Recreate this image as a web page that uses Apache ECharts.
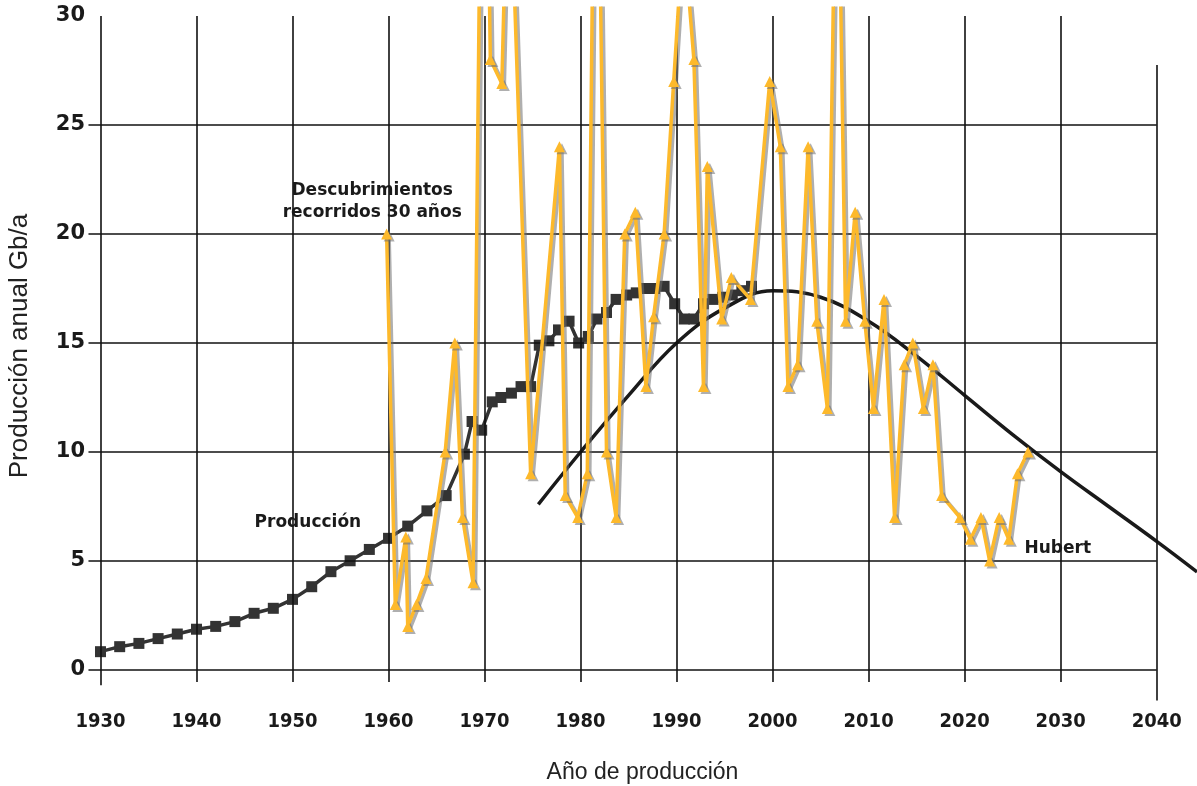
<!DOCTYPE html>
<html><head><meta charset="utf-8">
<script src="https://cdn.jsdelivr.net/npm/echarts@6/dist/echarts.min.js"></script>
<style>html,body{margin:0;padding:0;background:#fff}#c{width:1197px;height:786px}</style>
</head><body><div id="c"></div>
<script>
// ---- data ----
const prodYears = [1930,1932,1934,1936,1938,1940,1942,1944,1946,1948,1950,1952,1954,1956,1958,1960,1962,1964,1966,1967.9,
  1968.7,1969.7,1970.8,1971.7,1972.8,1973.8,1974.8,1975.7,1976.7,1977.7,1978.8,1979.8,1980.8,1981.7,1982.7,1983.7,
  1984.8,1985.8,1986.8,1987.7,1988.7,1989.8,1990.8,1991.8,1992.8,1993.8,1994.8,1995.8,1996.8,1997.8];
const prodValues = [0.84,1.07,1.22,1.44,1.65,1.87,2.0,2.22,2.6,2.83,3.24,3.82,4.51,5.01,5.53,6.04,6.6,7.3,8.0,9.9,
  11.4,11.0,12.3,12.5,12.7,13.0,13.0,14.9,15.1,15.6,16.0,15.0,15.3,16.1,16.4,17.0,
  17.2,17.3,17.5,17.5,17.6,16.8,16.1,16.1,16.8,17.0,17.1,17.2,17.4,17.6];

const discYears = [1959.8,1960.7,1961.8,1962.0,1962.9,1963.9,1965.9,1966.9,1967.7,1968.8,1969.9,1970.6,1971.8,1972.5,
  1974.8,1977.8,1978.4,1979.7,1980.7,1981.6,1982.7,1983.7,1984.6,1985.7,1986.8,1987.6,1988.7,1989.7,1990.7,1991.8,
  1992.8,1993.2,1994.7,1995.7,1997.7,1999.7,2000.8,2001.6,2002.6,2003.7,2004.6,2005.7,2006.7,2007.6,2008.6,2009.6,
  2010.5,2011.6,2012.7,2013.7,2014.6,2015.7,2016.7,2017.6,2019.5,2020.6,2021.7,2022.6,2023.6,2024.6,2025.5,2026.6];
const discValues = [20,3,6.1,2,3,4.2,10,15,7,4,50,28,26.9,39,
  9,24,8,7,9,47,10,7,20,21,13,16.2,20,27,34,28,
  13,23.1,16.1,18,17,27,24,13,14,24,16,12,42,16,21,16,
  12,17,7,14,15,12,14,8,7,6,7,5,7,6,9,10];

const hubbYears = [1975.6,1980,1985,1990,1995,2000,2005,2010,2015,2020,2025,2030,2035,2040,2044.2];
const hubbValues = [7.6,10.0,12.6,15.0,16.6,17.4,17.1,16.0,14.4,12.6,10.8,9.1,7.5,5.9,4.5];

const xTicks = [1930,1940,1950,1960,1970,1980,1990,2000,2010,2020,2030,2040];
const yTicks = [0,5,10,15,20,25,30];

const annotations = [
  {name:'Descubrimientos\nrecorridos 30 años', at:[1958.3,21.5]},
  {name:'Producción', at:[1951.6,6.74]},
  {name:'Hubert', at:[2029.7,5.55]}
];

// ---- build ----
const zip = (a,b) => a.map((v,i)=>[v,b[i]]);
const X_MIN = 1928.7, X_MAX = 2044.2, Y_MIN = -1.45, Y_MAX = 30.35;
const gridLines = [];
yTicks.slice(0,-1).forEach(v => gridLines.push([{coord:[1928.75,v]},{coord:[2040,v]}]));
xTicks.forEach(x => {
  const top = x===2040 ? 27.75 : 30;
  const bot = x===2040 ? -1.4 : (x===1930 ? -0.7 : -0.55);
  gridLines.push([{coord:[x,bot]},{coord:[x,top]}]);
});

const FONT = 'DejaVu Sans';
const chart = echarts.init(document.getElementById('c'), null, {renderer:'canvas'});
chart.setOption({
  animation:false,
  backgroundColor:'#fff',
  grid:{left:88, right:0, top:8.37, bottom:84.4, containLabel:false, outerBoundsMode:'none'},
  xAxis:{
    type:'value', min:X_MIN, max:X_MAX,
    axisLine:{show:false}, axisTick:{show:false}, splitLine:{show:false},
    axisLabel:{customValues:xTicks, formatter:v => String(v), margin:10.4,
      fontFamily:'DejaVu Sans Condensed, DejaVu Sans', fontWeight:'bold', fontSize:20, color:'#1a1a1a'},
    name:'Año de producción', nameLocation:'middle', nameGap:60,
    nameTextStyle:{fontFamily:'Liberation Sans Narrow, Liberation Sans', fontSize:23, color:'#222'}
  },
  yAxis:{
    type:'value', min:Y_MIN, max:Y_MAX,
    axisLine:{show:false}, axisTick:{show:false}, splitLine:{show:false},
    axisLabel:{customValues:yTicks, formatter:v => String(v), margin:3, fontFamily:FONT, fontWeight:'bold', fontSize:21, color:'#1a1a1a'},
    name:'Producción anual Gb/a', nameLocation:'middle', nameGap:55, nameRotate:90,
    nameTextStyle:{fontFamily:'Liberation Sans Narrow, Liberation Sans', fontSize:26, color:'#222', padding:[0,0,0,18]}
  },
  series:[
    {
      type:'line', data:[], clip:false, silent:true, z:1,
      markLine:{silent:true, symbol:['none','none'], animation:false, label:{show:false},
        lineStyle:{color:'#111', width:1.6, type:'solid'}, emphasis:{disabled:true}, data:gridLines},
      markPoint:{silent:true, symbol:'rect', symbolSize:1, itemStyle:{color:'rgba(0,0,0,0)'},
        label:{show:true, position:'inside', formatter:'{b}', fontFamily:FONT, fontWeight:'bold',
          fontSize:17, lineHeight:22, color:'#1a1a1a', align:'center'},
        data:annotations.map(a=>({name:a.name, coord:a.at}))}
    },
    {
      name:'Producción', type:'line', data:zip(prodYears,prodValues), z:3,
      symbol:'rect', symbolSize:11, showAllSymbol:true,
      lineStyle:{color:'#333', width:3.5}, itemStyle:{color:'#333'}
    },
    {
      name:'Hubert', type:'line', data:zip(hubbYears,hubbValues), z:4, smooth:0.4,
      symbol:'none', lineStyle:{color:'#1a1a1a', width:3.5}
    },
    {
      name:'Descubrimientos', type:'line', data:zip(discYears,discValues), z:5, clip:true,
      symbol:'triangle', symbolSize:11, showAllSymbol:true,
      lineStyle:{color:'#FDB92B', width:3.5, shadowColor:'rgba(110,110,110,0.55)', shadowOffsetX:2.5, shadowOffsetY:2, shadowBlur:0},
      itemStyle:{color:'#FDB92B', shadowColor:'rgba(110,110,110,0.55)', shadowOffsetX:2.5, shadowOffsetY:2, shadowBlur:0}
    }
  ]
});
</script></body></html>
